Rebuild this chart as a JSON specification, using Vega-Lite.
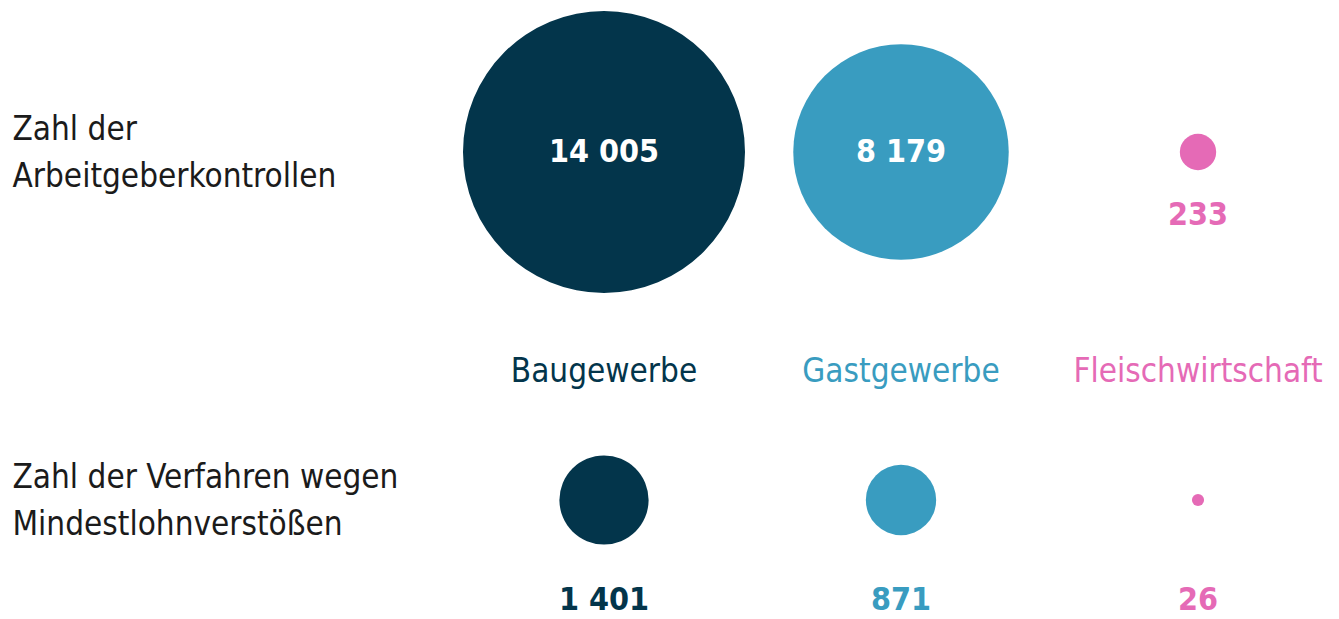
{
  "$schema": "https://vega.github.io/schema/vega-lite/v6.json",
  "width": 1039,
  "height": 619,
  "autosize": {"type": "none"},
  "padding": {"left": 300, "top": 0, "right": 0, "bottom": 0},
  "background": "white",
  "config": {
    "view": {"stroke": null},
    "font": "DejaVu Sans Condensed, Liberation Sans, sans-serif",
    "locale": {"number": {"decimal": ",", "thousands": " ", "grouping": [3], "currency": ["", " €"]}}
  },
  "data": {
    "values": [
      {"branche": "Baugewerbe", "kennzahl": "Zahl der Arbeitgeberkontrollen", "wert": 14005},
      {"branche": "Gastgewerbe", "kennzahl": "Zahl der Arbeitgeberkontrollen", "wert": 8179},
      {"branche": "Fleischwirtschaft", "kennzahl": "Zahl der Arbeitgeberkontrollen", "wert": 233},
      {"branche": "Baugewerbe", "kennzahl": "Zahl der Verfahren wegen Mindestlohnverstößen", "wert": 1401},
      {"branche": "Gastgewerbe", "kennzahl": "Zahl der Verfahren wegen Mindestlohnverstößen", "wert": 871},
      {"branche": "Fleischwirtschaft", "kennzahl": "Zahl der Verfahren wegen Mindestlohnverstößen", "wert": 26}
    ]
  },
  "encoding": {
    "x": {
      "field": "branche", "type": "nominal",
      "scale": {"type": "point", "domain": ["Baugewerbe", "Gastgewerbe", "Fleischwirtschaft"], "range": [304, 898], "padding": 0},
      "axis": null
    },
    "y": {
      "field": "kennzahl", "type": "nominal",
      "scale": {"type": "point", "domain": ["Zahl der Arbeitgeberkontrollen", "Zahl der Verfahren wegen Mindestlohnverstößen"], "range": [152, 500], "padding": 0},
      "axis": {
        "title": null, "domain": false, "ticks": false, "grid": false,
        "labelAlign": "left", "labelBaseline": "middle", "labelPadding": 288,
        "labelOffset": -23,
        "labelFontSize": 33, "labelColor": "#1b1b1b", "labelLimit": 600,
        "labelLineHeight": 47, "labelFont": "DejaVu Sans Condensed, Liberation Sans, sans-serif",
        "labelExpr": "datum.value == 'Zahl der Arbeitgeberkontrollen' ? ['Zahl der', 'Arbeitgeberkontrollen'] : ['Zahl der Verfahren wegen', 'Mindestlohnverstößen']"
      }
    },
    "color": {
      "field": "branche", "type": "nominal",
      "scale": {"domain": ["Baugewerbe", "Gastgewerbe", "Fleischwirtschaft"], "range": ["#03354b", "#399cc0", "#e56ab6"]},
      "legend": null
    }
  },
  "layer": [
    {
      "mark": {"type": "circle", "opacity": 1},
      "encoding": {
        "size": {"field": "wert", "type": "quantitative", "scale": {"type": "linear", "domain": [0, 14005], "range": [0, 79524]}, "legend": null}
      }
    },
    {
      "transform": [{"filter": "datum.wert > 5000"}],
      "mark": {"type": "text", "fontWeight": "bold", "fontSize": 32, "baseline": "middle", "align": "center"},
      "encoding": {"text": {"field": "wert", "type": "quantitative", "format": ","}, "color": {"value": "white"}}
    },
    {
      "transform": [{"filter": "datum.wert <= 5000 && datum.kennzahl == 'Zahl der Arbeitgeberkontrollen'"}],
      "mark": {"type": "text", "fontWeight": "bold", "fontSize": 32, "baseline": "middle", "align": "center", "dy": 63},
      "encoding": {"text": {"field": "wert", "type": "quantitative", "format": ","}}
    },
    {
      "transform": [{"filter": "datum.kennzahl != 'Zahl der Arbeitgeberkontrollen'"}],
      "mark": {"type": "text", "fontWeight": "bold", "fontSize": 32, "baseline": "middle", "align": "center", "dy": 100},
      "encoding": {"text": {"field": "wert", "type": "quantitative", "format": ","}}
    },
    {
      "transform": [{"filter": "datum.kennzahl != 'Zahl der Arbeitgeberkontrollen'"}],
      "mark": {"type": "text", "fontSize": 33, "baseline": "middle", "align": "center", "dy": -128},
      "encoding": {"text": {"field": "branche", "type": "nominal"}}
    }
  ]
}
